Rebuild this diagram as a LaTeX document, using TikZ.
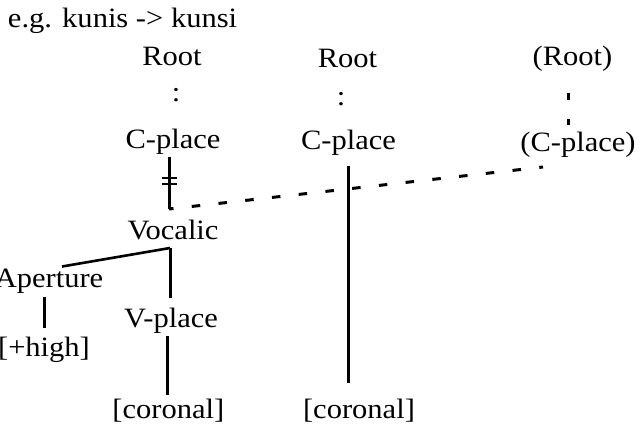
\documentclass[tikz,border=0pt]{standalone}
\usepackage{fontspec}
\usepackage{graphicx}
\setmainfont{Liberation Serif}
\newcommand\tx[1]{\scalebox{1.09}[1]{#1}}
\begin{document}
\begin{tikzpicture}[x=1pt,y=-1pt,
  lbl/.style={inner sep=0pt,outer sep=0pt,anchor=base,font=\fontsize{28}{34}\selectfont},
  conn/.style={line width=3pt},
  slant/.style={line width=2.6pt},
  dashconn/.style={line width=3pt,dash pattern=on 8.5pt off 18.4pt,dash phase=4pt},
  dashvert/.style={line width=3pt,dash pattern=on 7.5pt off 19pt},
  bar/.style={line width=1.3pt}]
\useasboundingbox (0,0) rectangle (641,426);
% labels
\node[lbl,anchor=base west] (eg) at (8,27) {\tx{e.g. kunis -> kunsi}};
\node[lbl] (r1) at (172,65) {\tx{Root}};
\node[lbl] (c1) at (176,101) {\tx{:}};
\node[lbl] (cp1) at (173,148) {\tx{C-place}};
\node[lbl] (r2) at (347.5,67) {\tx{Root}};
\node[lbl] (c2) at (341,105) {\tx{:}};
\node[lbl] (cp2) at (348.5,149) {\tx{C-place}};
\node[lbl] (r3) at (572.5,65) {\tx{(Root)}};
\node[lbl] (cp3) at (578,151) {\tx{(C-place)}};
\node[lbl] (voc) at (173,239) {\tx{Vocalic}};
\node[lbl] (ap) at (49,287) {\tx{Aperture}};
\node[lbl] (hi) at (44,356) {\tx{[+high]}};
\node[lbl] (vp) at (171,327.5) {\tx{V-place}};
\node[lbl] (cor1) at (168.3,418) {\tx{[coronal]}};
\node[lbl] (cor2) at (359,418) {\tx{[coronal]}};
% junctions
\coordinate (j) at (169,209);
\coordinate (cpend) at (543,167);
\coordinate (vj) at (170,248);
% C-place 1 to junction, delinked
\draw[conn,shorten <=3pt] (cp1.south -| j) -- (j);
\draw[bar] (162,178) -- (177,178);
\draw[bar] (162,184) -- (177,184);
% dashed association to (C-place)
\draw[dashconn] (j) -- (cpend);
% (Root) to (C-place)
\draw[dashvert,shorten <=21.7pt,shorten >=6.3pt] ([shift={(-4.5,0)}]r3.south) -- ([shift={(-4.5,0)}]r3.south |- cp3.north);
% C-place 2 to [coronal]
\draw[conn,shorten <=11pt,shorten >=16pt] (cp2.south) -- (cp2.south |- cor2.north);
% Vocalic branches
\draw[slant] (vj) -- ([shift={(13,-2)}]ap.north);
\draw[conn,shorten >=9.6pt] (vj) -- (vj |- vp.north);
% Aperture to [+high]
\draw[conn,shorten <=4.3pt,shorten >=8.7pt] (hi.north |- ap.south) -- (hi.north);
% V-place to [coronal]
\draw[conn,shorten <=3pt,shorten >=4pt] ([shift={(-1.3,0)}]cor1.north |- vp.south) -- ([shift={(-1.3,0)}]cor1.north);
\end{tikzpicture}
\end{document}
